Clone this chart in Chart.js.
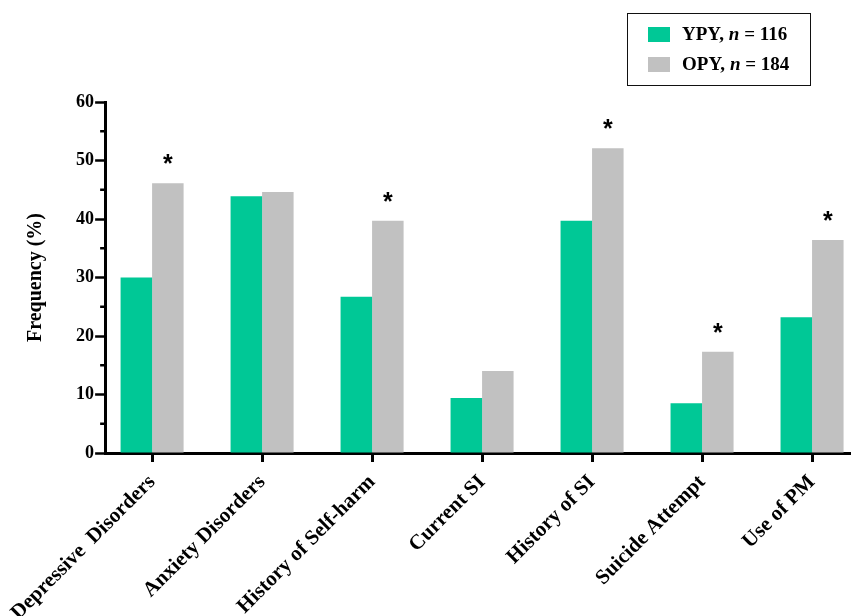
<!DOCTYPE html>
<html>
<head>
<meta charset="utf-8">
<script src="https://cdn.jsdelivr.net/npm/chart.js@4.4.0/dist/chart.umd.min.js"></script>
<style>
  html, body { margin: 0; padding: 0; background: #fff; }
  #wrap { position: relative; width: 852px; height: 616px; }
  #legend { position: absolute; left: 627px; top: 13px; width: 182px; height: 71px;
    border: 1.5px solid #111; font-family: "Liberation Serif", "Times New Roman", serif;
    font-weight: bold; font-size: 19px; color: #000; box-sizing: content-box; }
  .row { position: absolute; left: 20px; height: 16px; display: flex; align-items: center; }
  .sw { width: 22px; height: 15px; margin-right: 12px; }
  .txt { white-space: nowrap; line-height: 16px; }
</style>
</head>
<body>
<div id="wrap">
  <canvas id="c" width="852" height="616"></canvas>
  <div id="legend"></div>
</div>
<script>
const categories = ["Depressive  Disorders", "Anxiety Disorders", "History of Self-harm", "Current SI", "History of SI", "Suicide Attempt", "Use of PM"];
const ypyValues = [30.0, 43.9, 26.7, 9.4, 39.7, 8.5, 23.2];
const opyValues = [46.1, 44.6, 39.7, 14.0, 52.1, 17.3, 36.4];
const significant = [true, false, true, false, true, true, true];
const seriesNames = ["YPY", "OPY"];
const seriesN = [116, 184];
const yTicks = [0, 10, 20, 30, 40, 50, 60];
const yMinorTicks = [5, 15, 25, 35, 45, 55];

const GREEN = "#00C896";
const GRAY = "#C1C1C1";
const SERIF = "'Liberation Serif', 'Times New Roman', serif";

// HTML legend (mixed italic text)
const legend = document.getElementById('legend');
[GREEN, GRAY].forEach((col, i) => {
  const row = document.createElement('div');
  row.className = 'row';
  row.style.top = (12 + i * 30) + 'px';
  row.innerHTML = '<div class="sw" style="background:' + col + '"></div><span class="txt">' +
    seriesNames[i] + ', <i>n</i> = ' + seriesN[i] + '</span>';
  legend.appendChild(row);
});

const extras = {
  id: 'extras',
  afterDatasetsDraw(chart) {
    const ctx = chart.ctx;
    const y = chart.scales.y;
    // minor y ticks
    ctx.save();
    ctx.strokeStyle = '#000';
    ctx.lineWidth = 2.5;
    yMinorTicks.forEach(v => {
      const py = y.getPixelForValue(v);
      ctx.beginPath();
      ctx.moveTo(chart.chartArea.left - 5, py);
      ctx.lineTo(chart.chartArea.left, py);
      ctx.stroke();
    });
    // significance asterisks above OPY bars
    const meta = chart.getDatasetMeta(1);
    ctx.fillStyle = '#000';
    ctx.font = "bold 25px 'Liberation Sans', Arial, sans-serif";
    ctx.textAlign = 'center';
    ctx.textBaseline = 'middle';
    significant.forEach((s, i) => {
      if (!s) return;
      const bar = meta.data[i];
      ctx.fillText('*', bar.x, bar.y - 18);
    });
    ctx.restore();
  }
};

new Chart(document.getElementById('c'), {
  type: 'bar',
  data: {
    datasets: [
      { label: seriesNames[0], data: ypyValues.map((v, i) => ({ x: i, y: v })), backgroundColor: GREEN,
        categoryPercentage: 0.573, barPercentage: 1.0 },
      { label: seriesNames[1], data: opyValues.map((v, i) => ({ x: i, y: v })), backgroundColor: GRAY,
        categoryPercentage: 0.573, barPercentage: 1.0 }
    ]
  },
  options: {
    responsive: false,
    animation: false,
    layout: { padding: { top: 102, right: 2, left: 0, bottom: 0 } },
    plugins: { legend: { display: false }, tooltip: { enabled: false } },
    scales: {
      x: {
        type: 'linear',
        offset: false,
        min: -0.427,
        max: 6.345,
        afterBuildTicks: (s) => { s.ticks = categories.map((_, i) => ({ value: i })); },
        afterFit: (s) => { s.height = 163; },
        grid: { display: true, drawOnChartArea: false, tickLength: 9, tickWidth: 3, color: '#000', offset: false },
        border: { display: true, color: '#000', width: 3 },
        ticks: {
          autoSkip: false, minRotation: 45, maxRotation: 45, padding: 8,
          color: '#000',
          font: { family: SERIF, weight: 'bold', size: 21 },
          callback: (v) => categories[v] !== undefined ? categories[v] : ''
        }
      },
      y: {
        min: 0, max: 60,
        afterBuildTicks: (s) => { s.ticks = yTicks.map(v => ({ value: v })); },
        afterFit: (s) => { s.width = 105; },
        grid: { display: true, drawOnChartArea: false, tickLength: 10, tickWidth: 2.5, color: '#000' },
        border: { display: true, color: '#000', width: 3 },
        ticks: { color: '#000', padding: 1, font: { family: SERIF, weight: 'bold', size: 18 } },
        title: { display: true, text: 'Frequency (%)', color: '#000', padding: { top: 24, bottom: 0 },
          font: { family: SERIF, weight: 'bold', size: 20 } }
      }
    }
  },
  plugins: [extras]
});
</script>
</body>
</html>
